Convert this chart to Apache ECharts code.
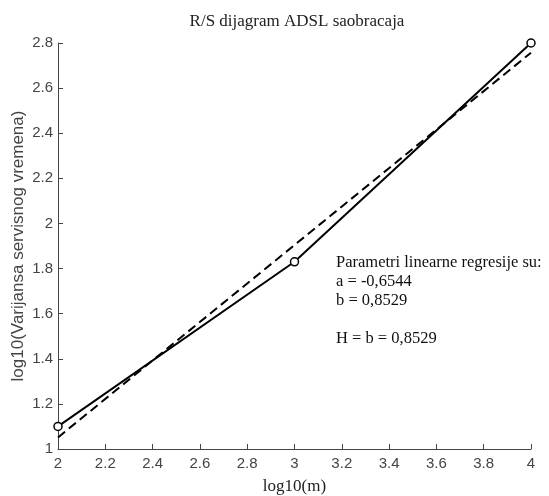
<!DOCTYPE html>
<html>
<head>
<meta charset="utf-8">
<script src="https://cdn.jsdelivr.net/npm/echarts@6/dist/echarts.min.js"></script>
<style>html,body{margin:0;padding:0;background:#fff}#c{width:549px;height:496px}</style>
</head>
<body>
<div id="c"></div>
<script>
var titleText = "R/S dijagram ADSL saobracaja";
var xName = "log10(m)";
var yName = "log10(Varijansa servisnog vremena)";
var xValues = [2, 3, 4];
var measured = [1.10, 1.83, 2.80];
var regA = -0.6544;
var regB = 0.8529;
var fitX = [2, 4];
var fitY = [1.0514, 2.7572];
var annotationLines = ["Parametri linearne regresije su:", "a = -0,6544", "b = 0,8529", "", "H = b = 0,8529"];

var chart = echarts.init(document.getElementById('c'), null, {renderer: 'canvas'});
var fmt = function (v) { return String(+v.toFixed(1)); };
chart.setOption({
  animation: false,
  backgroundColor: '#fff',
  title: {
    text: titleText, left: 292, top: 8, textAlign: 'center',
    textStyle: {fontFamily: 'Liberation Serif', fontSize: 17, fontWeight: 'normal', color: '#222'}
  },
  grid: {left: 58, right: 18, top: 43, bottom: 47, outerBoundsMode: 'none', containLabel: false},
  xAxis: {
    type: 'value', min: 2, max: 4, interval: 0.2,
    name: xName, nameLocation: 'middle', nameGap: 29, nameMoveOverlap: false,
    nameTextStyle: {fontFamily: 'Liberation Serif', fontSize: 17, color: '#222'},
    axisLine: {show: true, lineStyle: {color: '#444', width: 1}},
    axisTick: {show: true, inside: true, length: 5, lineStyle: {color: '#444'}},
    axisLabel: {formatter: fmt, fontFamily: 'Liberation Sans', fontSize: 15, color: '#444', margin: 7},
    splitLine: {show: false}
  },
  yAxis: {
    type: 'value', min: 1, max: 2.8, interval: 0.2,
    name: yName, nameLocation: 'middle', nameGap: 31, nameRotate: 90, nameMoveOverlap: false,
    nameTextStyle: {fontFamily: 'Liberation Sans', fontSize: 17, color: '#444'},
    axisLine: {show: true, lineStyle: {color: '#444', width: 1}},
    axisTick: {show: true, inside: true, length: 5, lineStyle: {color: '#444'}},
    axisLabel: {formatter: fmt, fontFamily: 'Liberation Sans', fontSize: 15, color: '#444', margin: 5},
    splitLine: {show: false}
  },
  series: [
    {
      type: 'line', data: xValues.map(function (x, i) { return [x, measured[i]]; }),
      symbol: 'circle', symbolSize: 8,
      itemStyle: {color: '#fff', borderColor: '#000', borderWidth: 1.5},
      lineStyle: {color: '#000', width: 2}, z: 3
    },
    {
      type: 'line', data: fitX.map(function (x, i) { return [x, fitY[i]]; }),
      symbol: 'none',
      lineStyle: {color: '#000', width: 2, type: [9, 5]}, z: 2
    }
  ],
  graphic: [{
    type: 'text', left: 336, top: 253,
    style: {text: annotationLines.join('\n'), font: '16.5px "Liberation Serif"', fill: '#111', lineHeight: 19}
  }]
});
</script>
</body>
</html>
